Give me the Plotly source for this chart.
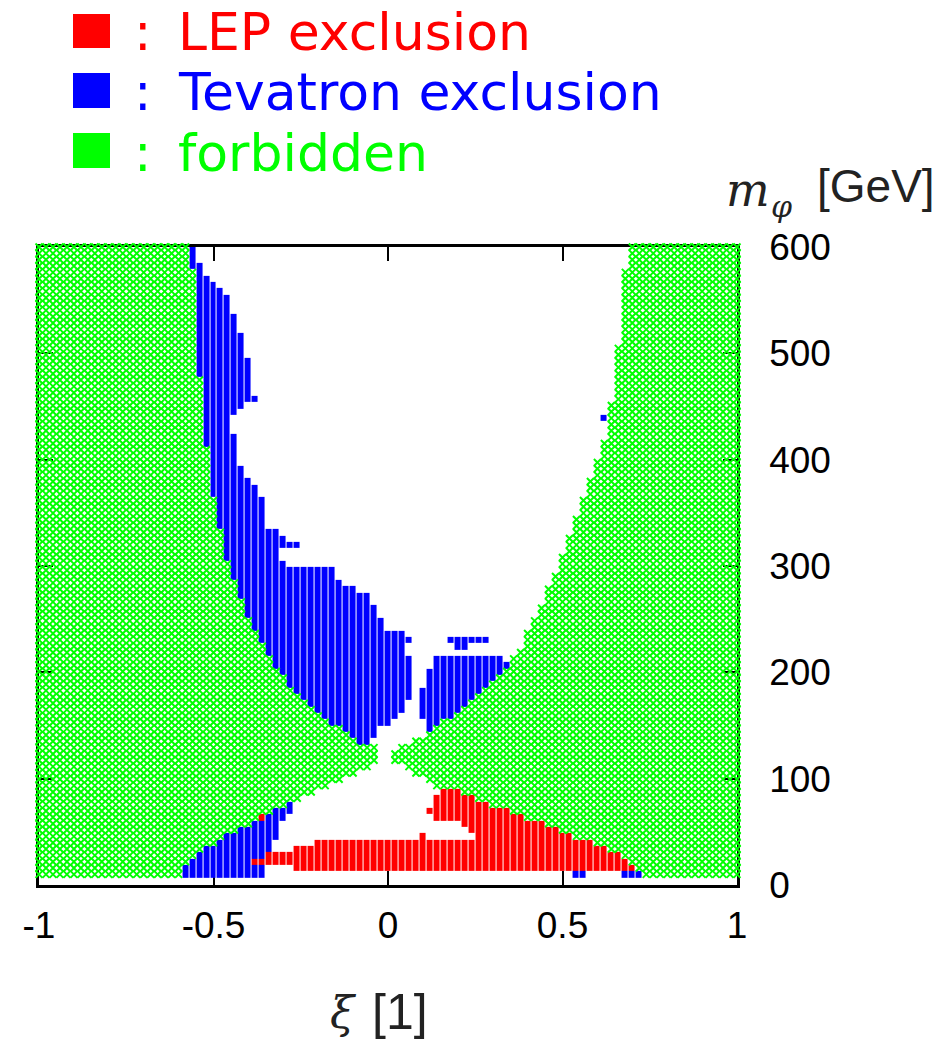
import numpy as np
import plotly.graph_objects as go

# ---------------- scan grid (xi columns, m_phi rows) ----------------
XI_GRID = np.linspace(-1.0, 1.0, 101)     # column index i = 0..100
M_GRID = np.linspace(10.0, 600.0, 100)    # row index k = 1..100  (M_GRID[k-1])

# ---------------- forbidden region (green) ----------------
# for every mass row k = 1..100 (bottom -> top):
# last forbidden column of the left wedge, first forbidden column of the right wedge
FORBIDDEN_LEFT_LAST_COL = [
    20, 20, 21, 22, 23, 25, 26, 28, 30, 31,
    33, 35, 37, 39, 41, 43, 45, 47, 48, 48,
    48, 45, 44, 43, 41, 40, 39, 38, 37, 36,
    35, 35, 34, 33, 33, 32, 32, 31, 31, 30,
    30, 29, 29, 29, 28, 28, 28, 27, 27, 27,
    26, 26, 26, 26, 26, 25, 25, 25, 25, 25,
    24, 24, 24, 24, 24, 24, 24, 24, 23, 23,
    23, 23, 23, 23, 23, 23, 23, 23, 23, 22,
    22, 22, 22, 22, 22, 22, 22, 22, 22, 22,
    22, 22, 22, 22, 22, 22, 21, 21, 21, 21,
]
FORBIDDEN_RIGHT_FIRST_COL = [
    87, 86, 85, 84, 82, 80, 77, 75, 73, 70,
    68, 65, 63, 61, 57, 56, 54, 53, 51, 51,
    52, 54, 56, 57, 58, 60, 61, 62, 63, 64,
    65, 66, 67, 68, 68, 69, 70, 70, 70, 71,
    71, 72, 72, 73, 73, 73, 74, 74, 75, 75,
    75, 76, 76, 76, 77, 77, 77, 78, 78, 78,
    79, 79, 79, 80, 80, 80, 81, 81, 81, 82,
    82, 82, 82, 82, 82, 83, 83, 83, 83, 83,
    83, 83, 83, 83, 84, 84, 84, 84, 84, 84,
    84, 84, 84, 84, 84, 84, 85, 85, 85, 85,
]

# ---------------- Tevatron exclusion (blue): (column, first row, last row) ----------------
TEVATRON_RUNS = [
    (21, 1, 2), (22, 1, 3), (23, 1, 4), (24, 1, 5), (25, 1, 5), (26, 1, 6),
    (27, 1, 7), (28, 1, 7), (29, 1, 8), (30, 1, 8), (31, 1, 2), (31, 4, 9),
    (32, 1, 2), (32, 4, 9), (33, 5, 10), (34, 7, 11), (35, 10, 11), (36, 11, 12),
    (77, 1, 1), (78, 1, 1), (84, 1, 1), (85, 1, 1), (86, 1, 1),
    (22, 97, 100), (23, 80, 97), (24, 69, 95), (25, 61, 94), (26, 56, 93),
    (27, 51, 92), (28, 48, 70), (28, 74, 89), (29, 45, 65), (29, 75, 86),
    (30, 42, 63), (30, 76, 82), (31, 40, 62), (31, 76, 76), (32, 38, 60),
    (33, 36, 55), (34, 34, 55), (35, 33, 50), (35, 53, 54), (36, 31, 49),
    (36, 53, 53), (37, 30, 49), (37, 53, 53), (38, 29, 49), (39, 28, 49),
    (40, 27, 49), (41, 26, 49), (42, 25, 49), (43, 25, 47), (44, 24, 46),
    (45, 23, 46), (46, 22, 45), (47, 22, 45), (48, 23, 43), (49, 25, 41),
    (50, 25, 39), (51, 26, 39), (52, 27, 39), (53, 29, 35), (53, 38, 38),
    (55, 26, 30), (56, 24, 33), (57, 25, 35), (58, 26, 35), (59, 26, 35),
    (59, 38, 38), (60, 27, 35), (60, 37, 38), (61, 28, 35), (61, 37, 38),
    (62, 29, 35), (62, 38, 38), (63, 30, 35), (63, 38, 38), (64, 31, 35),
    (64, 38, 38), (65, 32, 35), (66, 33, 35), (67, 34, 34), (81, 73, 73),
]

# ---------------- LEP exclusion (red): (column, first row, last row) ----------------
LEP_RUNS = [
    (31, 3, 3), (32, 3, 3), (32, 10, 10), (33, 3, 4), (34, 3, 4), (35, 3, 4),
    (36, 3, 4), (37, 2, 5), (38, 2, 5), (39, 2, 5),
    (40, 2, 6), (41, 2, 6), (42, 2, 6), (43, 2, 6), (44, 2, 6), (45, 2, 6),
    (46, 2, 6), (47, 2, 6), (48, 2, 6), (49, 2, 6), (50, 2, 6), (51, 2, 6),
    (52, 2, 6), (53, 2, 6), (54, 2, 6), (55, 2, 7), (56, 2, 6), (56, 11, 11),
    (57, 2, 6), (57, 10, 13), (58, 2, 6), (58, 10, 14), (59, 2, 6), (59, 10, 14),
    (60, 2, 6), (60, 10, 14), (61, 2, 6), (61, 9, 13), (62, 2, 6), (62, 8, 13),
    (63, 2, 12), (64, 2, 12), (65, 2, 11), (66, 2, 11), (67, 2, 11), (68, 2, 10),
    (69, 2, 10), (70, 2, 9), (71, 2, 9), (72, 2, 9), (73, 2, 8), (74, 2, 8),
    (75, 2, 7), (76, 2, 7), (77, 2, 6), (78, 2, 6), (79, 2, 6), (80, 2, 5),
    (81, 2, 5), (82, 2, 4), (83, 2, 4), (84, 2, 3), (85, 2, 2),
]

X_TICKS = [-1, -0.5, 0, 0.5, 1]
X_TICK_LABELS = ["-1", "-0.5", "0", "0.5", "1"]
Y_TICKS = [0, 100, 200, 300, 400, 500, 600]
Y_TICK_LABELS = ["0", "100", "200", "300", "400", "500", "600"]

LEGEND_LABELS = ["LEP exclusion", "Tevatron exclusion", "forbidden"]
RED, BLUE, GREEN = "#ff0000", "#0000ff", "#00ff00"
LEGEND_COLORS = [RED, BLUE, GREEN]

# ---------------- build marks ----------------
gx, gy = [], []
for k in range(1, 101):
    for i in range(0, FORBIDDEN_LEFT_LAST_COL[k - 1] + 1):
        gx.append(XI_GRID[i]); gy.append(M_GRID[k - 1])
    for i in range(FORBIDDEN_RIGHT_FIRST_COL[k - 1], 101):
        gx.append(XI_GRID[i]); gy.append(M_GRID[k - 1])

z = np.full((100, 101), np.nan)
for (i, k0, k1) in LEP_RUNS:
    z[k0 - 1:k1, i] = 1
for (i, k0, k1) in TEVATRON_RUNS:
    z[k0 - 1:k1, i] = 2

W, H = 943, 1043
L, R, T, B = 39, 206, 247, 158
PW, PH = W - L - R, H - T - B
def pxx(xp):
    return (xp - L) / PW
def pyy(yp):
    return (H - B - yp) / PH

SANS = "Liberation Sans, Arial, Helvetica, sans-serif"
LEGEND_FONT = "DejaVu Sans, Liberation Sans, sans-serif"
SERIF = "DejaVu Serif, Liberation Serif, serif"

fig = go.Figure()
fig.add_trace(go.Scatter(
    x=gx, y=gy, mode="markers", cliponaxis=False, hoverinfo="skip", showlegend=False,
    marker=dict(symbol="x-thin", size=7, color=GREEN, line=dict(width=2.0, color=GREEN)),
))
fig.add_trace(go.Heatmap(
    x=XI_GRID, y=M_GRID, z=z, zmin=1, zmax=2, showscale=False, hoverinfo="skip",
    colorscale=[[0, RED], [0.5, RED], [0.5, BLUE], [1, BLUE]], xgap=1, ygap=0,
))

axis_common = dict(
    showgrid=False, zeroline=False, showline=True, linecolor="black", linewidth=2.5,
    ticks="inside", ticklen=14, tickwidth=2, tickcolor="black", mirror="ticks",
    layer="below traces", tickfont=dict(family=SANS, size=37, color="black"),
)
fig.update_xaxes(range=[-1, 1], tickmode="array", tickvals=X_TICKS, ticktext=X_TICK_LABELS,
                 ticklabelstandoff=6, **axis_common)
fig.update_yaxes(range=[0, 600], side="right", tickmode="array", tickvals=Y_TICKS,
                 ticktext=Y_TICK_LABELS, ticklabelstandoff=22, **axis_common)

shapes, annots = [], []
LFS = 52
sq_rows = [(14, 48), (73, 108), (133, 168)]
baselines = [49.5, 110, 170.5]
for (y0, y1), bl, col, lab in zip(sq_rows, baselines, LEGEND_COLORS, LEGEND_LABELS):
    shapes.append(dict(type="rect", xref="paper", yref="paper",
                       x0=pxx(73), x1=pxx(110), y0=pyy(y1), y1=pyy(y0),
                       fillcolor=col, line=dict(width=0)))
    yc = pyy(bl - 0.345 * LFS)
    annots.append(dict(xref="paper", yref="paper", x=pxx(143), y=yc, text=":",
                       showarrow=False, xanchor="center", yanchor="middle", borderpad=0,
                       font=dict(family=LEGEND_FONT, size=LFS, color=col)))
    annots.append(dict(xref="paper", yref="paper", x=pxx(177), y=yc, text=lab,
                       showarrow=False, xanchor="left", yanchor="middle", borderpad=0,
                       font=dict(family=LEGEND_FONT, size=LFS, color=col)))

annots.append(dict(xref="paper", yref="paper", x=pxx(724), y=pyy(190),
                   text="<i>m</i>", showarrow=False, xanchor="left", yanchor="middle",
                   font=dict(family=SERIF, size=46, color="#222222")))
annots.append(dict(xref="paper", yref="paper", x=pxx(769), y=pyy(207),
                   text="<i>φ</i>", showarrow=False, xanchor="left", yanchor="middle",
                   font=dict(family=SERIF, size=30, color="#222222")))
annots.append(dict(xref="paper", yref="paper", x=pxx(937), y=pyy(186),
                   text="[GeV]", showarrow=False, xanchor="right", yanchor="middle",
                   font=dict(family=SANS, size=46, color="#222222")))
annots.append(dict(xref="paper", yref="paper", x=pxx(359), y=pyy(1012),
                   text="<i>ξ</i>", showarrow=False, xanchor="right", yanchor="middle",
                   font=dict(family=SERIF, size=44, color="#222222")))
annots.append(dict(xref="paper", yref="paper", x=pxx(370), y=pyy(1012),
                   text="[1]", showarrow=False, xanchor="left", yanchor="middle",
                   font=dict(family=SANS, size=50, color="#222222")))

fig.update_layout(
    width=W, height=H, margin=dict(l=L, r=R, t=T, b=B, pad=0),
    paper_bgcolor="white", plot_bgcolor="white", showlegend=False,
    shapes=shapes, annotations=annots,
)
fig.write_html("out.html")
